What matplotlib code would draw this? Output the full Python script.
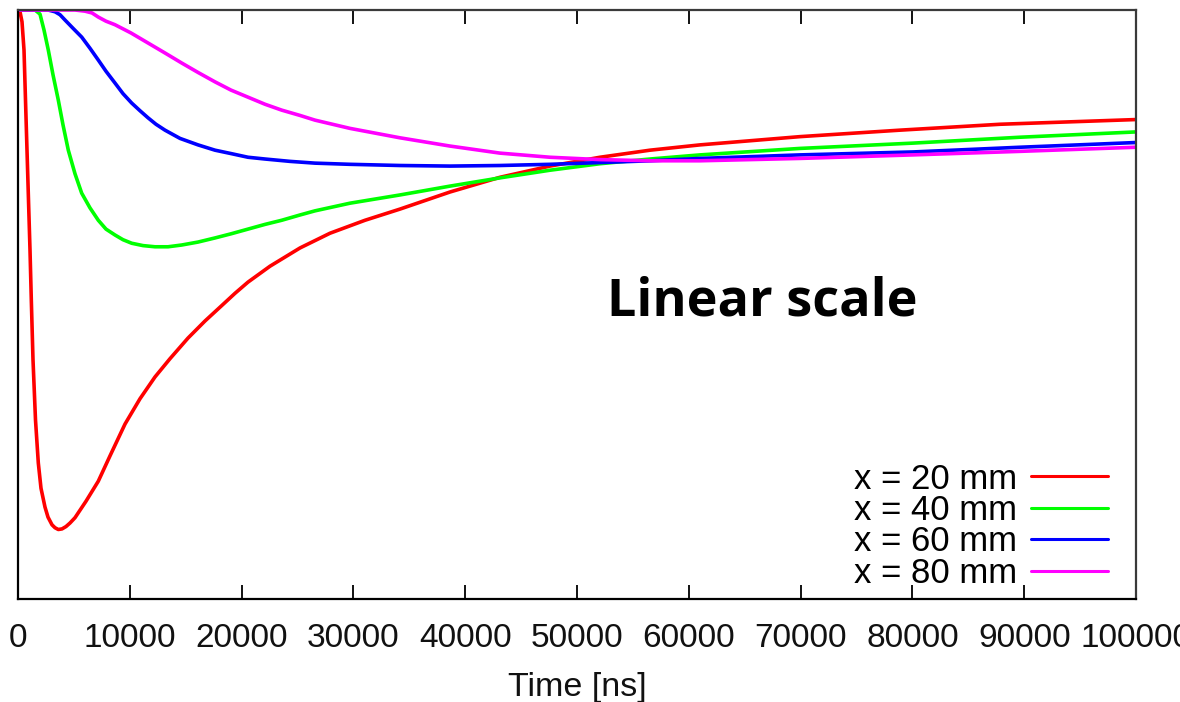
import matplotlib
matplotlib.use("Agg")
import matplotlib.pyplot as plt

# Time [ns] and (arbitrary-unit) signal values
t_20 = [0, 179, 358, 537, 671, 805, 939, 1073, 1190, 1342, 1565, 1816, 2057, 2415, 2683,
        3041, 3309, 3605, 3936, 4293, 4651, 5098, 6082, 7182, 8229, 9571, 10912, 12254,
        13596, 15206, 16726, 18157, 19410, 20572, 22540, 25224, 27907, 31037, 34168,
        38640, 43113, 47585, 52057, 56529, 61002, 65474, 69946, 78890, 87835, 100000]
v_20 = [0, -0.003, -0.020, -0.068, -0.153, -0.238, -0.323, -0.407, -0.492, -0.594,
        -0.696, -0.769, -0.812, -0.844, -0.861, -0.874, -0.879, -0.882, -0.881, -0.877,
        -0.871, -0.862, -0.834, -0.800, -0.757, -0.703, -0.660, -0.623, -0.592, -0.557,
        -0.528, -0.503, -0.481, -0.462, -0.435, -0.404, -0.379, -0.357, -0.338, -0.309,
        -0.284, -0.265, -0.250, -0.238, -0.229, -0.222, -0.215, -0.204, -0.194, -0.186]

t_40 = [0, 1520, 1968, 2326, 2710, 3131, 3605, 4025, 4499, 5098, 5698, 6440, 7182, 7871,
        8676, 9392, 10170, 11181, 12254, 13417, 14642, 16100, 17621, 19052, 20572, 22093,
        23587, 25224, 26565, 29696, 34168, 38640, 43113, 47585, 52057, 56529, 61002,
        69946, 80054, 89624, 100000]
v_40 = [0, 0, -0.007, -0.034, -0.068, -0.110, -0.153, -0.195, -0.238, -0.278, -0.311,
        -0.336, -0.357, -0.372, -0.382, -0.390, -0.396, -0.400, -0.402, -0.402, -0.399,
        -0.394, -0.387, -0.380, -0.372, -0.364, -0.357, -0.348, -0.341, -0.328, -0.314,
        -0.299, -0.285, -0.272, -0.261, -0.253, -0.246, -0.235, -0.226, -0.216, -0.207]

t_60 = [0, 2683, 3309, 3757, 4204, 4919, 5698, 6440, 7182, 7871, 8676, 9392, 10170,
        10912, 11628, 12343, 13148, 14490, 16100, 17621, 19114, 20572, 22093, 24329,
        26565, 29696, 34168, 38640, 43113, 47585, 52057, 56529, 61002, 69946, 80054,
        89624, 100000]
v_60 = [0, 0, -0.003, -0.008, -0.017, -0.031, -0.046, -0.065, -0.085, -0.104, -0.124,
        -0.142, -0.158, -0.171, -0.183, -0.194, -0.204, -0.218, -0.229, -0.238, -0.244,
        -0.250, -0.253, -0.257, -0.260, -0.262, -0.264, -0.265, -0.264, -0.262, -0.259,
        -0.256, -0.252, -0.246, -0.241, -0.233, -0.225]

t_80 = [0, 5098, 5993, 6619, 7182, 7871, 8676, 10107, 11628, 13148, 14642, 16100, 17621,
        19052, 20572, 22093, 23587, 25224, 26565, 29696, 34168, 38640, 43113, 47585,
        52057, 56529, 61002, 65474, 69946, 80054, 89624, 100000]
v_80 = [0, 0, -0.002, -0.005, -0.012, -0.019, -0.025, -0.039, -0.056, -0.073, -0.090,
        -0.106, -0.122, -0.136, -0.148, -0.160, -0.170, -0.179, -0.187, -0.201, -0.217,
        -0.231, -0.243, -0.250, -0.254, -0.256, -0.256, -0.254, -0.252, -0.246, -0.240,
        -0.233]

labels = ["x = 20 mm", "x = 40 mm", "x = 60 mm", "x = 80 mm"]
colors = ["#ff0000", "#00ff00", "#0000ff", "#ff00ff"]
x_ticks = [0, 10000, 20000, 30000, 40000, 50000, 60000, 70000, 80000, 90000, 100000]

plt.rcParams["font.family"] = ["Liberation Sans", "DejaVu Sans"]

fig = plt.figure(figsize=(11.8, 7.02), dpi=100)
ax = fig.add_axes([18 / 1180, 1 - 599 / 702, 1118 / 1180, 589 / 702])

series = [(t_20, v_20), (t_40, v_40), (t_60, v_60), (t_80, v_80)]
for (t, v), lab, c in zip(series, labels, colors):
    ax.plot(t, v, color=c, lw=2.6, label=lab, solid_joinstyle="round",
            solid_capstyle="round")

ax.set_xlim(0, 100000)
ax.set_ylim(-1.0, 0.0)
ax.set_xticks(x_ticks)
ax.set_xticklabels([str(x) for x in x_ticks])
ax.set_yticks([])
ax.tick_params(axis="x", direction="in", top=True, length=10, width=1.4,
               labelsize=24, pad=17, colors="#111111")
ax.set_xlabel("Time [ns]", fontsize=24.5, labelpad=13, color="#111111")

for s in ["left", "bottom"]:
    ax.spines[s].set_linewidth(1.6)
    ax.spines[s].set_color("black")
for s in ["top", "right"]:
    ax.spines[s].set_linewidth(1.6)
    ax.spines[s].set_color("#3a3a3a")

leg = ax.legend(loc="lower right", bbox_to_anchor=(0.9875, -0.008), frameon=False,
                markerfirst=False, fontsize=25, handlelength=2.22,
                handletextpad=0.4, labelspacing=-0.045, borderaxespad=0.0)
for line in leg.get_lines():
    line.set_linewidth(2.2)

fig.text(762 / 1180, 1 - 302 / 702, "Linear scale", family=["Open Sans", "DejaVu Sans"],
         fontweight="bold", fontsize=37.5, ha="center", va="center", color="black")

fig.savefig("out.png", dpi=100)
